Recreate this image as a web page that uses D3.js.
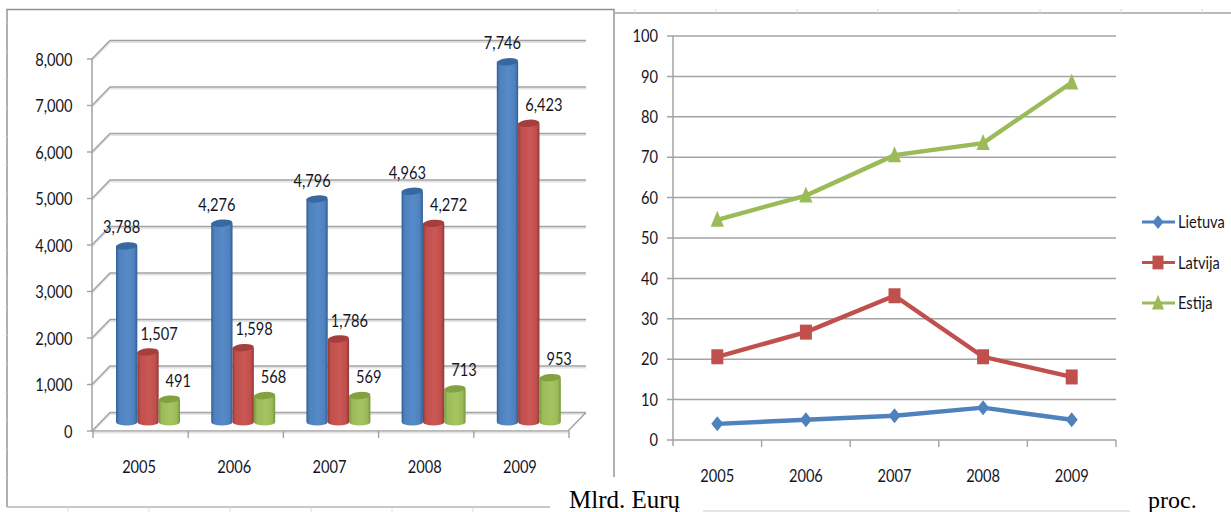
<!DOCTYPE html>
<html>
<head>
<meta charset="utf-8">
<script src="https://cdn.jsdelivr.net/npm/d3@7"></script>
<style>
html,body{margin:0;padding:0;background:#fff;}
svg{display:block;}
text{font-family:"Lato","Roboto",sans-serif;fill:#15151f;}
.note{font-family:"Liberation Serif",serif;fill:#000;}
</style>
</head>
<body>
<svg id="chart" width="1231" height="512"></svg>
<script>
const years = ["2005","2006","2007","2008","2009"];

// Left panel: billions of euro
const amountSeries = ["Lietuva","Latvija","Estija"];
const amountLietuva = [3788,4276,4796,4963,7746];
const amountLatvija = [1507,1598,1786,4272,6423];
const amountEstija = [491,568,569,713,953];
const amountTicks = [0,1000,2000,3000,4000,5000,6000,7000,8000];

// Right panel: percent
const shareLietuva = [4,5,6,8,5];
const shareLatvija = [20.6,26.7,35.7,20.6,15.6];
const shareEstija = [54.5,60.5,70.5,73.5,88.5];
const shareTicks = [0,10,20,30,40,50,60,70,80,90,100];

const palette = {
  Lietuva:{main:"#4f81bd",dark:"#2f5f98",light:"#568ac8",top:"#37689f"},
  Latvija:{main:"#c0504d",dark:"#923735",light:"#cb5855",top:"#a43f3d"},
  Estija:{main:"#9bbb59",dark:"#76963a",light:"#a5c561",top:"#82a23f"}
};

const svg = d3.select("#chart");
const gridColor = "#a3a3a3";
const fmt = d3.format(",");
const labelSize = 17;

// Chart labels use a tighter set width than the font's natural one
function tighten(sel){
  sel.each(function(){
    this.setAttribute("lengthAdjust","spacingAndGlyphs");
    this.setAttribute("textLength",this.getComputedTextLength()*0.86);
  });
}

// Page furniture around the two pictures
const furniture = svg.append("g").attr("fill","none");
furniture.append("path").attr("d","M7,507V9.5H614V477").attr("stroke","#8f8f8f").attr("stroke-width",1.4);
furniture.append("path").attr("d","M7,507H550").attr("stroke","#b4b4b4").attr("stroke-width",1.4);
furniture.append("path").attr("d","M614,13H1231").attr("stroke","#a5a5a5").attr("stroke-width",1.4);
furniture.append("path").attr("d","M703,511H1130").attr("stroke","#dedede").attr("stroke-width",1.4);
furniture.selectAll(".topTick").data(d3.range(8)).join("path")
  .attr("d",i=>`M${635+81*i},9V13`).attr("stroke","#d5dae4");
furniture.selectAll(".bottomTick").data(d3.range(6)).join("path")
  .attr("d",i=>`M${68+81*i},507V512`).attr("stroke","#d5dae4");
furniture.selectAll(".sideTick").data(d3.range(17)).join("path")
  .attr("d",i=>`M4.5,${23+28.4*i}H7`).attr("stroke","#dfe3ea");

/* ---------- 3-D cylinder chart ---------- */
const left = svg.append("g");
const depth = {x:18,y:-18.5};
const yAmount = d3.scaleLinear().domain([0,8000]).range([431,59]);
const xFront = d3.scaleBand().domain(years).range([93,569]);
const xBars = d3.scaleBand().domain(years).range([100.4,576.4]);
const xInner = d3.scaleBand().domain(amountSeries).range([-32,32]);
const barLift = 9;

// Wall gridlines with a soft shadow and the receding diagonals
amountTicks.forEach(t=>{
  const y = yAmount(t);
  const path = `M${92},${y}L${92+depth.x},${y+depth.y}H${568+depth.x}`;
  left.append("path").attr("d",path).attr("transform","translate(0,1.6)").attr("fill","none").attr("stroke","#e4e4e4").attr("stroke-width",1.6);
  left.append("path").attr("d",path).attr("fill","none").attr("stroke",gridColor).attr("stroke-width",1.5);
  left.append("path").attr("d",`M87,${y}H92`).attr("stroke",gridColor).attr("stroke-width",1.4);
  left.append("text").attr("class","lbl").attr("x",72.5).attr("y",y+0.5).attr("dy","0.36em").attr("text-anchor","end").text(fmt(t));
});
// Floor outline and value axis
left.append("path").attr("d",`M92,${yAmount(8000)}V${yAmount(0)}H568L${568+depth.x},${yAmount(0)+depth.y}`)
  .attr("fill","none").attr("stroke",gridColor).attr("stroke-width",1.5);
left.append("path").attr("d",`M92,${yAmount(0)+1.6}H568`).attr("fill","none").attr("stroke","#e4e4e4").attr("stroke-width",1.6);
[...years.map(y=>xFront(y)),xFront.range()[1]].forEach(x=>{
  left.append("path").attr("d",`M${x},${yAmount(0)}v7`).attr("stroke",gridColor).attr("stroke-width",1.4);
});
left.selectAll(".yearLabel").data(years).join("text").attr("class","lbl")
  .attr("x",d=>xFront(d)+xFront.bandwidth()/2-1.5).attr("y",467).attr("dy","0.36em")
  .attr("text-anchor","middle").text(d=>d);

// Horizontal shading that makes each bar read as a cylinder
const defs = svg.append("defs");
amountSeries.forEach(s=>{
  const g = defs.append("linearGradient").attr("id","cyl-"+s);
  [[0,palette[s].dark],[0.14,palette[s].main],[0.55,palette[s].light],[0.85,palette[s].main],[1,palette[s].dark]]
    .forEach(([o,c])=>g.append("stop").attr("offset",o).attr("stop-color",c));
});

const amountBySeries = {Lietuva:amountLietuva,Latvija:amountLatvija,Estija:amountEstija};
const labelDx = {Lietuva:()=>-5,Latvija:v=>v>4000?15:11,Estija:()=>9};
amountSeries.forEach(s=>{
  const g = left.append("g");
  const w = xInner.bandwidth();
  const rx = w/2, ry = 3.6;
  const rows = years.map((yr,i)=>({yr,v:amountBySeries[s][i]}));
  const cx = d=>xBars(d.yr)+xBars.bandwidth()/2+xInner(s)+w/2;
  const topY = d=>yAmount(d.v)-barLift;
  const baseY = yAmount(0)-barLift;
  g.selectAll("path.body").data(rows).join("path").attr("class","body")
    .attr("d",d=>`M${cx(d)-rx},${topY(d)}V${baseY}A${rx},${ry} 0 0 0 ${cx(d)+rx},${baseY}V${topY(d)}Z`)
    .attr("fill",`url(#cyl-${s})`);
  g.selectAll("ellipse").data(rows).join("ellipse")
    .attr("cx",cx).attr("cy",topY).attr("rx",rx).attr("ry",ry)
    .attr("fill",palette[s].top)
    .attr("transform",d=>`rotate(-5 ${cx(d)} ${topY(d)})`);
  left.selectAll(null).data(rows).join("text").attr("class","lbl")
    .attr("x",d=>cx(d)+labelDx[s](d.v)).attr("y",d=>topY(d)-18.5).attr("dy","0.36em")
    .attr("text-anchor","middle").text(d=>fmt(d.v));
});

/* ---------- Line chart ---------- */
const right = svg.append("g");
const yShare = d3.scaleLinear().domain([0,100]).range([440,36]);
const xShare = d3.scaleBand().domain(years).range([673,1116]);
const xMid = d=>xShare(d)+xShare.bandwidth()/2;

shareTicks.forEach(t=>{
  const y = yShare(t);
  right.append("path").attr("d",`M667,${y}H1116`).attr("stroke",gridColor).attr("stroke-width",1.5);
  right.append("text").attr("class","lbl").attr("x",658).attr("y",y).attr("dy","0.36em").attr("text-anchor","end").text(t);
});
right.append("path").attr("d",`M673,36V446`).attr("stroke",gridColor).attr("stroke-width",1.5);
[...years.map(y=>xShare(y)).slice(1),xShare.range()[1]].forEach(x=>{
  right.append("path").attr("d",`M${x},440v7`).attr("stroke",gridColor).attr("stroke-width",1.4);
});
right.selectAll(".yearLabel").data(years).join("text").attr("class","lbl")
  .attr("x",xMid).attr("y",476).attr("dy","0.36em").attr("text-anchor","middle").text(d=>d);

// Marker shapes are all slightly taller than they are wide
const tallDiamond = {draw(ctx,size){
  const r = Math.sqrt(size)/2;
  ctx.moveTo(0,-r*1.25); ctx.lineTo(r,0); ctx.lineTo(0,r*1.25); ctx.lineTo(-r,0); ctx.closePath();
}};
const tallSquare = {draw(ctx,size){
  const r = Math.sqrt(size)/2;
  ctx.rect(-r,-r*1.25,2*r,2.5*r);
}};
const tallTriangle = {draw(ctx,size){
  const r = Math.sqrt(size)/2;
  ctx.moveTo(0,-r*1.5); ctx.lineTo(r*1.1,r*1.17); ctx.lineTo(-r*1.1,r*1.17); ctx.closePath();
}};
const shapes = {Lietuva:tallDiamond,Latvija:tallSquare,Estija:tallTriangle};
const marker = (s,size)=>d3.symbol().type(shapes[s]).size(size)();

const shareSeries = [["Lietuva",shareLietuva],["Latvija",shareLatvija],["Estija",shareEstija]];
const line = d3.line().x(d=>xMid(d.yr)).y(d=>yShare(d.v));
shareSeries.forEach(([s,vals])=>{
  const rows = years.map((yr,i)=>({yr,v:vals[i]}));
  right.append("path").datum(rows).attr("d",line).attr("fill","none")
    .attr("stroke",palette[s].main).attr("stroke-width",4.4);
  right.selectAll(null).data(rows).join("path")
    .attr("d",marker(s,144)).attr("fill",palette[s].main)
    .attr("transform",d=>`translate(${xMid(d.yr)},${yShare(d.v)})`);
});

// Legend
const legendY = d3.scalePoint().domain(amountSeries).range([222,303]);
amountSeries.forEach(s=>{
  const y = legendY(s);
  right.append("path").attr("d",`M1142,${y}H1175`).attr("stroke",palette[s].main).attr("stroke-width",3);
  right.append("path").attr("d",marker(s,121)).attr("fill",palette[s].main)
    .attr("transform",`translate(1158,${y})`);
  right.append("text").attr("class","lbl").attr("x",1178).attr("y",y).attr("dy","0.36em").text(s);
});

svg.selectAll("text.lbl").attr("font-size",labelSize).call(tighten);

// Captions typed under the pictures
svg.append("text").attr("class","note").attr("x",569).attr("y",508).attr("font-size",25).text("Mlrd. Eurų");
svg.append("text").attr("class","note").attr("x",1148).attr("y",508).attr("font-size",24).text("proc.");
</script>
</body>
</html>
